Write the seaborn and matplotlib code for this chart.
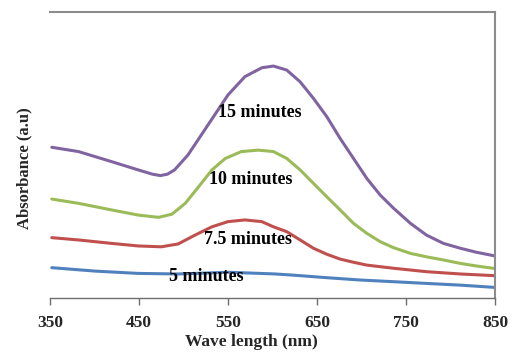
import pandas as pd
import matplotlib
matplotlib.use("Agg")
import matplotlib.pyplot as plt
import seaborn as sns

# Wavelength (nm) and absorbance (a.u.) readings taken off the figure
wl_15 = [352, 382, 419, 449, 465, 474, 482, 490, 505, 520, 535, 550, 569,
         588, 601, 616, 631, 646, 661, 676, 691, 706, 721, 736, 755, 773,
         792, 811, 829, 850]
abs_15 = [0.527, 0.512, 0.477, 0.448, 0.433, 0.428, 0.433, 0.448, 0.500,
          0.570, 0.640, 0.710, 0.774, 0.805, 0.811, 0.797, 0.756, 0.698,
          0.634, 0.558, 0.488, 0.418, 0.360, 0.314, 0.261, 0.220, 0.191,
          0.174, 0.160, 0.147]

wl_10 = [352, 382, 419, 449, 472, 487, 502, 517, 532, 547, 565, 584, 601,
         616, 631, 646, 661, 676, 691, 706, 721, 736, 755, 773, 792, 811,
         829, 850]
abs_10 = [0.346, 0.331, 0.308, 0.290, 0.282, 0.293, 0.331, 0.389, 0.448,
          0.488, 0.512, 0.517, 0.512, 0.488, 0.448, 0.401, 0.354, 0.308,
          0.261, 0.226, 0.197, 0.176, 0.156, 0.144, 0.133, 0.121, 0.112,
          0.103]

wl_75 = [352, 382, 419, 449, 475, 494, 513, 532, 550, 569, 588, 601, 616,
         631, 646, 661, 676, 691, 706, 736, 773, 811, 850]
abs_75 = [0.211, 0.203, 0.191, 0.182, 0.179, 0.189, 0.220, 0.249, 0.267,
          0.273, 0.267, 0.249, 0.232, 0.203, 0.174, 0.153, 0.136, 0.125,
          0.115, 0.104, 0.092, 0.084, 0.078]

wl_5 = [352, 401, 449, 494, 550, 586, 603, 623, 661, 698, 736, 773, 811, 850]
abs_5 = [0.106, 0.094, 0.086, 0.084, 0.090, 0.086, 0.084, 0.080, 0.071,
         0.063, 0.057, 0.051, 0.045, 0.037]

series = ["15 minutes", "10 minutes", "7.5 minutes", "5 minutes"]
colors = ["#8064A2", "#9BBB59", "#C0504D", "#4F81BD"]
x_ticks = [350, 450, 550, 650, 750, 850]

# label anchor positions (wavelength, absorbance)
label_wl = [586, 576, 572, 526]
label_abs = [0.647, 0.413, 0.203, 0.075]

frames = []
for name, wl, ab in zip(series, [wl_15, wl_10, wl_75, wl_5],
                        [abs_15, abs_10, abs_75, abs_5]):
    frames.append(pd.DataFrame({"wl": wl, "A": ab, "time": name}))
df = pd.concat(frames, ignore_index=True)

sns.set_style("white")
plt.rcParams["font.family"] = ["Liberation Serif", "DejaVu Serif"]
plt.rcParams["font.weight"] = "bold"
plt.rcParams["lines.solid_joinstyle"] = "round"

fig = plt.figure(figsize=(5.15, 3.52), dpi=100)
ax = fig.add_axes([50 / 515, 1 - 298 / 352, 445 / 515, 286 / 352])

sns.lineplot(data=df, x="wl", y="A", hue="time", hue_order=series,
             palette=colors, linewidth=2.2, legend=False, ax=ax)

for name, lx, ly in zip(series, label_wl, label_abs):
    ax.text(lx, ly, name, ha="center", va="center", fontsize=13,
            fontweight="bold", color="black")

ax.set_xlim(350, 850)
ax.set_ylim(0, 1.0)
ax.set_xticks(x_ticks)
ax.set_xticklabels([str(t) for t in x_ticks], fontsize=12.5, fontweight="bold")
ax.set_yticks([])

ax.set_xlabel("Wave length (nm)", fontsize=12.5, fontweight="bold")
ax.xaxis.set_label_coords(0.452, -0.125)
ax.set_ylabel("Absorbance (a.u)", fontsize=12, fontweight="bold")
ax.yaxis.set_label_coords(-0.04, 0.455)

ax.spines["left"].set_visible(False)
for side in ["top", "right"]:
    ax.spines[side].set_color("#8c8c8c")
    ax.spines[side].set_linewidth(1.5)
ax.spines["bottom"].set_color("#6e6e6e")
ax.spines["bottom"].set_linewidth(1.0)
ax.tick_params(axis="x", direction="out", length=5, width=1.0,
               color="#6e6e6e", pad=7, bottom=True)

fig.savefig("out.png", dpi=100)
